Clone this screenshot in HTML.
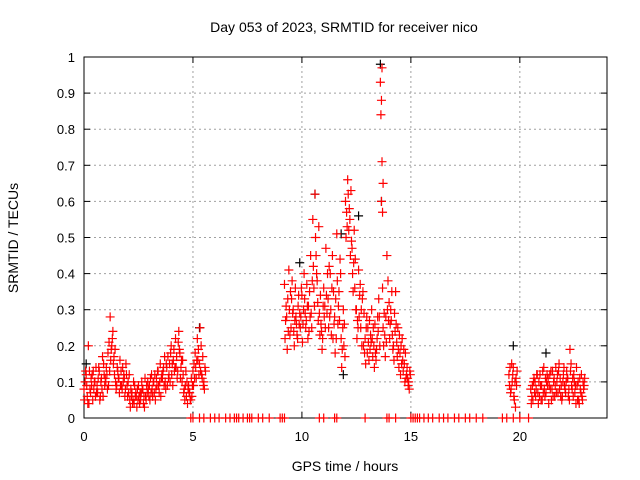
<!DOCTYPE html>
<html><head><meta charset="utf-8">
<style>
html,body{margin:0;padding:0;background:#fff;}
svg{display:block;font-family:"Liberation Sans",sans-serif;}
</style></head>
<body>
<svg id="chart" width="640" height="480" viewBox="0 0 640 480" xmlns="http://www.w3.org/2000/svg">
<text x="344" y="32" font-size="14" text-anchor="middle">Day 053 of 2023, SRMTID for receiver nico</text>
<text x="345" y="471" font-size="14" text-anchor="middle">GPS time / hours</text>
<text x="18" y="238" font-size="14" text-anchor="middle" transform="rotate(-90 18 238)">SRMTID / TECUs</text>
<g id="grid"></g>
<g id="axes"></g>
<g id="marks"></g>
</svg>
<script>
const xTicks = [0,5,10,15,20];
const yTicks = [0,0.1,0.2,0.3,0.4,0.5,0.6,0.7,0.8,0.9,1];
const yTickLabels = ["0","0.1","0.2","0.3","0.4","0.5","0.6","0.7","0.8","0.9","1"];

const hoursA = [0.0,0.1,0.2,0.3,0.4,0.5,0.6,0.7,0.8,0.9,1.0,1.1,1.2,1.3,1.4,1.5,1.6,1.7,1.8,1.9,2.0,2.1,2.2,2.3,2.4,2.5,2.6,2.7,2.8,2.9,3.0,3.1,3.2,3.3,3.4,3.5,3.6,3.7,3.8,3.9,4.0,4.1,4.2,4.3,4.4,4.5,4.6,4.7,4.8,4.9,5.0,5.1,5.2,5.3,5.4,5.5];
const tecA1 = [0.08,0.12,0.20,0.07,0.05,0.10,0.09,0.13,0.11,0.15,0.10,0.18,0.28,0.22,0.12,0.09,0.11,0.13,0.10,0.08,0.06,0.05,0.07,0.04,0.06,0.09,0.05,0.08,0.11,0.07,0.09,0.12,0.10,0.08,0.13,0.15,0.11,0.17,0.14,0.12,0.20,0.16,0.22,0.13,0.18,0.10,0.08,0.06,0.09,0.05,0.13,0.18,0.22,0.15,0.12,0.10];
const tecA2 = [0.05,0.09,0.04,0.11,0.13,0.06,0.07,0.05,0.08,0.12,0.14,0.09,0.16,0.24,0.19,0.14,0.07,0.09,0.12,0.15,0.10,0.03,0.04,0.09,0.03,0.06,0.07,0.04,0.06,0.10,0.05,0.08,0.07,0.11,0.09,0.06,0.13,0.10,0.09,0.15,0.12,0.19,0.14,0.21,0.11,0.16,0.05,0.10,0.07,0.11,0.09,0.14,0.16,0.25,0.11,0.08];
const tecA3 = [0.10,0.06,0.13,0.09,0.08,0.14,0.11,0.06,0.17,0.09,0.12,0.21,0.19,0.15,0.10,0.13,0.16,0.08,0.11,0.12,0.07,0.08,0.05,0.06,0.08,0.04,0.10,0.06,0.05,0.08,0.11,0.06,0.12,0.09,0.07,0.11,0.14,0.08,0.17,0.10,0.15,0.13,0.17,0.24,0.14,0.12,0.09,0.04,0.07,0.06,0.15,0.11,0.19,0.13,0.17,0.14];
const tecA4 = [0.13,0.04,0.08,0.12,0.10,0.07,0.14,0.10,0.06,0.11,0.08,0.13,0.20,0.17,0.08,0.11,0.09,0.14,0.06,0.09,0.12,0.06,0.10,0.07,0.05,0.07,0.08,0.03,0.09,0.06,0.07,0.10,0.05,0.13,0.10,0.12,0.09,0.15,0.11,0.18,0.09,0.14,0.11,0.19,0.16,0.07,0.13,0.08,0.05,0.09,0.11,0.16,0.12,0.20,0.09,0.13];

const hoursB = [9.2,9.3,9.4,9.5,9.6,9.7,9.8,9.9,10.0,10.1,10.2,10.3,10.4,10.5,10.6,10.7,10.8,10.9,11.0,11.1,11.2,11.3,11.4,11.5,11.6,11.7,11.8,11.9,12.0,12.1,12.2,12.3,12.4,12.5,12.6,12.7,12.8,12.9,13.0,13.1,13.2,13.3,13.4,13.5,13.6,13.65,13.7,13.8,13.9,14.0,14.1,14.2,14.3,14.4,14.5,14.6,14.7,14.8,14.9];
const tecB1 = [0.37,0.28,0.41,0.25,0.30,0.36,0.22,0.29,0.34,0.40,0.27,0.31,0.45,0.55,0.62,0.38,0.29,0.24,0.36,0.47,0.33,0.40,0.45,0.28,0.51,0.35,0.22,0.30,0.60,0.66,0.55,0.47,0.52,0.30,0.41,0.25,0.35,0.22,0.18,0.27,0.30,0.20,0.16,0.24,0.93,0.60,0.36,0.23,0.45,0.32,0.27,0.20,0.35,0.25,0.18,0.22,0.15,0.12,0.10];
const tecB2 = [0.22,0.19,0.30,0.33,0.24,0.28,0.31,0.25,0.21,0.33,0.37,0.24,0.29,0.42,0.50,0.32,0.23,0.19,0.28,0.34,0.25,0.30,0.22,0.18,0.38,0.27,0.14,0.20,0.50,0.62,0.45,0.40,0.36,0.22,0.28,0.30,0.20,0.15,0.25,0.19,0.22,0.14,0.19,0.33,0.84,0.71,0.25,0.17,0.30,0.22,0.35,0.16,0.26,0.19,0.12,0.16,0.10,0.14,0.08];
const tecB3 = [0.27,0.33,0.23,0.38,0.20,0.26,0.34,0.28,0.26,0.29,0.31,0.35,0.25,0.36,0.45,0.27,0.34,0.22,0.31,0.29,0.42,0.23,0.35,0.33,0.26,0.44,0.19,0.26,0.57,0.52,0.63,0.35,0.44,0.27,0.34,0.20,0.29,0.25,0.21,0.23,0.17,0.26,0.22,0.28,0.88,0.57,0.20,0.28,0.38,0.26,0.23,0.29,0.21,0.14,0.20,0.13,0.18,0.11,0.13];
const tecB4 = [0.31,0.24,0.35,0.29,0.27,0.23,0.26,0.36,0.30,0.25,0.22,0.28,0.38,0.31,0.40,0.53,0.26,0.31,0.25,0.40,0.28,0.36,0.26,0.22,0.31,0.40,0.25,0.17,0.53,0.58,0.49,0.43,0.30,0.25,0.37,0.33,0.18,0.28,0.16,0.21,0.25,0.18,0.28,0.20,0.97,0.65,0.29,0.21,0.27,0.30,0.19,0.24,0.17,0.23,0.15,0.19,0.11,0.09,0.12];

const hoursC = [19.5,19.6,19.7,19.8,20.5,20.6,20.7,20.8,20.9,21.0,21.1,21.2,21.3,21.4,21.5,21.6,21.7,21.8,21.9,22.0,22.1,22.2,22.3,22.4,22.5,22.6,22.7,22.8,22.9];
const tecC1 = [0.12,0.08,0.14,0.03,0.08,0.05,0.10,0.12,0.06,0.09,0.14,0.07,0.11,0.08,0.13,0.06,0.10,0.15,0.09,0.12,0.07,0.11,0.19,0.08,0.10,0.14,0.05,0.07,0.10];
const tecC2 = [0.09,0.15,0.06,0.11,0.04,0.10,0.06,0.07,0.12,0.05,0.08,0.10,0.04,0.13,0.06,0.09,0.12,0.08,0.05,0.14,0.10,0.06,0.13,0.11,0.07,0.09,0.04,0.12,0.08];
const tecC3 = [0.14,0.10,0.05,0.09,0.06,0.11,0.08,0.04,0.09,0.13,0.06,0.12,0.09,0.05,0.10,0.14,0.07,0.11,0.06,0.09,0.13,0.08,0.15,0.06,0.09,0.05,0.11,0.06,0.09];
const tecC4 = [0.07,0.12,0.10,0.13,0.09,0.07,0.12,0.10,0.05,0.07,0.11,0.09,0.12,0.08,0.11,0.07,0.13,0.06,0.10,0.08,0.11,0.05,0.09,0.12,0.04,0.10,0.08,0.05,0.11];

const zeroHours = [4.9,5.0,5.3,5.5,5.8,6.0,6.2,6.5,6.7,6.9,7.0,7.1,7.3,7.5,7.6,7.7,8.0,8.2,8.5,9.0,9.1,9.2,10.8,11.0,11.5,11.6,12.9,13.9,14.0,14.3,15.0,15.1,15.2,15.3,15.4,15.6,15.8,16.0,16.3,16.5,16.7,17.0,17.2,17.5,17.7,18.0,18.3,19.2,19.4,19.7,20.0,20.4];

const blackHours = [0.1,5.3,9.9,10.6,11.8,11.9,12.6,13.6,13.65,19.7,21.2];
const blackTec = [0.15,0.25,0.43,0.62,0.51,0.12,0.56,0.98,0.60,0.20,0.18];

const X0=84, X1=607, Y0=418, Y1=57, XMAX=24;
function xs(h){return X0+(h/XMAX)*(X1-X0);}
function ys(v){return Y0-v*(Y0-Y1);}
const NS="http://www.w3.org/2000/svg";
function mk(tag,attrs,parent){const e=document.createElementNS(NS,tag);for(const k in attrs)e.setAttribute(k,attrs[k]);parent.appendChild(e);return e;}

const grid=document.getElementById('grid'), axes=document.getElementById('axes'), marks=document.getElementById('marks');
yTicks.forEach((v,i)=>{
  const y=ys(v);
  if(i>0&&i<yTicks.length-1){const g=mk('line',{x1:X0,x2:X1,y1:y,y2:y,stroke:'#a0a0a0','stroke-dasharray':'2,3'},grid);
    
    }
  mk('line',{x1:X0,x2:X0+6,y1:y,y2:y,stroke:'#000'},axes);
  mk('line',{x1:X1,x2:X1-6,y1:y,y2:y,stroke:'#000'},axes);
  const t=mk('text',{x:X0-9,y:y+5,'font-size':13,'text-anchor':'end'},axes);
  t.textContent=yTickLabels[i];
  
  
});
xTicks.forEach((h,i)=>{
  const x=xs(h);
  if(i>0){const g=mk('line',{x1:x,x2:x,y1:Y0,y2:Y1,stroke:'#a0a0a0','stroke-dasharray':'2,3'},grid);
    
    }
  mk('line',{x1:x,x2:x,y1:Y0,y2:Y0-6,stroke:'#000'},axes);
  mk('line',{x1:x,x2:x,y1:Y1,y2:Y1+6,stroke:'#000'},axes);
  const t=mk('text',{x:x,y:Y0+23,'font-size':13,'text-anchor':'middle'},axes);
  t.textContent=String(h);
  
  
});
const frame=mk('rect',{x:X0,y:Y1,width:X1-X0,height:Y0-Y1,fill:'none',stroke:'#000'},axes);



function plus(h,v,color,name){
  const x=xs(h),y=ys(v);
  const p=mk('path',{d:`M${x-4.5},${y}h9M${x},${y-4.5}v9`,stroke:color,'stroke-width':1.2,fill:'none'},marks);
  
  
}
blackHours.forEach((h,i)=>plus(h,blackTec[i],'#000','black-point'));
[[hoursA,[tecA1,tecA2,tecA3,tecA4]],[hoursB,[tecB1,tecB2,tecB3,tecB4]],[hoursC,[tecC1,tecC2,tecC3,tecC4]]].forEach(([hs,series])=>{
  hs.forEach((h,i)=>{
    series.forEach((s,k)=>{
      if(s[i]!==undefined)plus(h+k*0.025,s[i],'#ff0000','red-point');
    });
  });
});
zeroHours.forEach(h=>plus(h,0,'#ff0000','zero-point'));
</script>
</body></html>
